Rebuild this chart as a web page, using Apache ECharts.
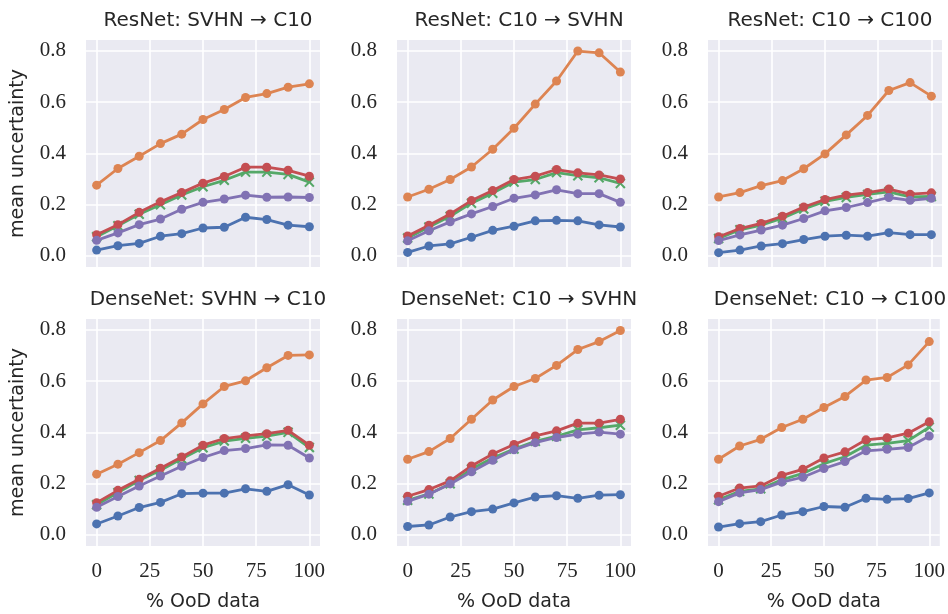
<!DOCTYPE html>
<html>
<head>
<meta charset="utf-8">
<script src="https://cdn.jsdelivr.net/npm/echarts@6/dist/echarts.min.js"></script>
<style>
html,body{margin:0;padding:0;background:#fff;}
#chart{width:948px;height:614px;}
</style>
</head>
<body>
<div id="chart"></div>
<script>
// ---------- data ----------
const xValues = [0, 10, 20, 30, 40, 50, 60, 70, 80, 90, 100];
const xTicks = [0, 25, 50, 75, 100];
const yTicks = [0, 0.2, 0.4, 0.6, 0.8];
const panelTitles = [
  'ResNet: SVHN \u2192 C10', 'ResNet: C10 \u2192 SVHN', 'ResNet: C10 \u2192 C100',
  'DenseNet: SVHN \u2192 C10', 'DenseNet: C10 \u2192 SVHN', 'DenseNet: C10 \u2192 C100'
];
const yLabel = 'mean uncertainty';
const xLabel = '% OoD data';

// panel 1: ResNet SVHN -> C10
const p1Blue   = [0.023, 0.040, 0.049, 0.077, 0.087, 0.109, 0.112, 0.151, 0.142, 0.120, 0.114];
const p1Orange = [0.276, 0.341, 0.389, 0.438, 0.475, 0.532, 0.571, 0.618, 0.633, 0.658, 0.671];
const p1Green  = [0.075, 0.118, 0.163, 0.200, 0.238, 0.270, 0.295, 0.327, 0.327, 0.318, 0.288];
const p1Red    = [0.083, 0.122, 0.170, 0.211, 0.247, 0.284, 0.310, 0.346, 0.346, 0.334, 0.311];
const p1Purple = [0.061, 0.090, 0.122, 0.144, 0.182, 0.209, 0.222, 0.237, 0.229, 0.230, 0.228];
// panel 2: ResNet C10 -> SVHN
const p2Blue   = [0.014, 0.039, 0.047, 0.073, 0.100, 0.116, 0.137, 0.139, 0.137, 0.121, 0.113];
const p2Orange = [0.230, 0.260, 0.298, 0.347, 0.416, 0.498, 0.592, 0.682, 0.799, 0.792, 0.717];
const p2Green  = [0.070, 0.113, 0.155, 0.206, 0.245, 0.288, 0.298, 0.325, 0.313, 0.305, 0.283];
const p2Red    = [0.078, 0.120, 0.164, 0.216, 0.255, 0.298, 0.311, 0.337, 0.324, 0.316, 0.300];
const p2Purple = [0.059, 0.098, 0.133, 0.164, 0.193, 0.225, 0.238, 0.258, 0.243, 0.243, 0.209];
// panel 3: ResNet C10 -> C100
const p3Blue   = [0.013, 0.023, 0.039, 0.048, 0.064, 0.077, 0.081, 0.077, 0.091, 0.083, 0.083];
const p3Orange = [0.230, 0.247, 0.274, 0.294, 0.340, 0.398, 0.472, 0.548, 0.645, 0.676, 0.623];
const p3Green  = [0.068, 0.102, 0.120, 0.147, 0.183, 0.213, 0.228, 0.240, 0.250, 0.230, 0.232];
const p3Red    = [0.075, 0.107, 0.127, 0.155, 0.191, 0.220, 0.237, 0.247, 0.261, 0.241, 0.246];
const p3Purple = [0.060, 0.082, 0.101, 0.120, 0.146, 0.176, 0.189, 0.208, 0.228, 0.217, 0.225];
// panel 4: DenseNet SVHN -> C10
const p4Blue   = [0.043, 0.074, 0.107, 0.127, 0.161, 0.163, 0.163, 0.180, 0.170, 0.196, 0.156];
const p4Orange = [0.237, 0.276, 0.321, 0.368, 0.437, 0.511, 0.579, 0.601, 0.652, 0.700, 0.702];
const p4Green  = [0.118, 0.165, 0.212, 0.252, 0.297, 0.340, 0.366, 0.377, 0.385, 0.400, 0.341];
const p4Red    = [0.126, 0.174, 0.217, 0.260, 0.304, 0.350, 0.376, 0.386, 0.395, 0.408, 0.350];
const p4Purple = [0.108, 0.150, 0.191, 0.230, 0.268, 0.302, 0.329, 0.337, 0.351, 0.350, 0.300];
// panel 5: DenseNet C10 -> SVHN
const p5Blue   = [0.033, 0.039, 0.070, 0.091, 0.101, 0.125, 0.148, 0.153, 0.143, 0.155, 0.157];
const p5Orange = [0.295, 0.325, 0.376, 0.451, 0.526, 0.579, 0.610, 0.661, 0.723, 0.754, 0.797];
const p5Green  = [0.135, 0.160, 0.200, 0.257, 0.300, 0.335, 0.365, 0.385, 0.410, 0.418, 0.428];
const p5Red    = [0.151, 0.177, 0.211, 0.269, 0.316, 0.353, 0.386, 0.406, 0.436, 0.436, 0.451];
const p5Purple = [0.131, 0.159, 0.199, 0.246, 0.291, 0.332, 0.360, 0.380, 0.393, 0.401, 0.393];
// panel 6: DenseNet C10 -> C100
const p6Blue   = [0.031, 0.044, 0.052, 0.078, 0.091, 0.111, 0.108, 0.143, 0.139, 0.142, 0.164];
const p6Orange = [0.295, 0.347, 0.373, 0.419, 0.451, 0.497, 0.540, 0.604, 0.614, 0.663, 0.754];
const p6Green  = [0.137, 0.170, 0.180, 0.215, 0.240, 0.278, 0.305, 0.350, 0.357, 0.368, 0.420];
const p6Red    = [0.151, 0.183, 0.191, 0.232, 0.256, 0.300, 0.324, 0.371, 0.379, 0.397, 0.441];
const p6Purple = [0.130, 0.164, 0.177, 0.206, 0.225, 0.259, 0.286, 0.328, 0.334, 0.341, 0.386];

const panels = [
  [p1Blue, p1Orange, p1Green, p1Red, p1Purple],
  [p2Blue, p2Orange, p2Green, p2Red, p2Purple],
  [p3Blue, p3Orange, p3Green, p3Red, p3Purple],
  [p4Blue, p4Orange, p4Green, p4Red, p4Purple],
  [p5Blue, p5Orange, p5Green, p5Red, p5Purple],
  [p6Blue, p6Orange, p6Green, p6Red, p6Purple]
];

// ---------- styling ----------
const colors = ['#4C72B0', '#DD8452', '#55A868', '#C44E52', '#8172B3'];
const xSymbol = 'path://M0,1.4 L1.4,0 L5,3.6 L8.6,0 L10,1.4 L6.4,5 L10,8.6 L8.6,10 L5,6.4 L1.4,10 L0,8.6 L3.6,5 Z';
const symbols = ['circle', 'circle', xSymbol, 'circle', 'circle'];
const symbolSizes = [9, 9, 10.5, 9, 9];
const textColor = '#262626';
const tickFont = 'Liberation Serif';
const sansFont = 'DejaVu Sans';

const gridLefts = [86, 397, 708];
const gridTops = [40, 319];
const gridW = 234, gridH = 227;

const grids = [], xAxes = [], yAxes = [], titles = [], series = [];
for (let i = 0; i < 6; i++) {
  const row = Math.floor(i / 3), col = i % 3;
  grids.push({
    left: gridLefts[col], top: gridTops[row], width: gridW, height: gridH,
    show: true, backgroundColor: '#EAEAF2', borderWidth: 0
  });
  titles.push({
    text: panelTitles[i],
    left: gridLefts[col] + gridW / 2,
    top: gridTops[row] - 34,
    textAlign: 'center',
    textStyle: { fontFamily: sansFont, fontSize: 20, fontWeight: 'normal', color: textColor }
  });
  xAxes.push({
    gridIndex: i, type: 'value', min: -5, max: 105,
    axisLine: { show: false }, axisTick: { show: false, customValues: xTicks },
    axisLabel: {
      show: row === 1, customValues: xTicks, margin: 15,
      fontFamily: tickFont, fontSize: 21, color: textColor
    },
    splitLine: { show: true, lineStyle: { color: '#ffffff', width: 1.6 } },
    name: row === 1 ? xLabel : '',
    nameLocation: 'middle', nameGap: 47,
    nameTextStyle: { fontFamily: sansFont, fontSize: 19, color: textColor }
  });
  yAxes.push({
    gridIndex: i, type: 'value', min: -0.043, max: 0.842,
    axisLine: { show: false }, axisTick: { show: false, customValues: yTicks },
    axisLabel: {
      customValues: yTicks, margin: 20,
      fontFamily: tickFont, fontSize: 21, color: textColor,
      formatter: v => v.toFixed(1)
    },
    splitLine: { show: true, lineStyle: { color: '#ffffff', width: 1.6 } },
    name: col === 0 ? yLabel : '',
    nameLocation: 'middle', nameGap: 58, nameRotate: 90,
    nameTextStyle: { fontFamily: sansFont, fontSize: 19, color: textColor }
  });
  panels[i].forEach((vals, k) => {
    series.push({
      type: 'line', xAxisIndex: i, yAxisIndex: i,
      data: xValues.map((x, j) => [x, vals[j]]),
      symbol: symbols[k], symbolSize: symbolSizes[k], showSymbol: true,
      lineStyle: { color: colors[k], width: 2.8 },
      itemStyle: { color: colors[k], borderWidth: 0 },
      z: 2 + k, animation: false
    });
  });
}

const chart = echarts.init(document.getElementById('chart'), null, { renderer: 'canvas' });
chart.setOption({
  animation: false,
  backgroundColor: '#ffffff',
  title: titles,
  grid: grids,
  xAxis: xAxes,
  yAxis: yAxes,
  series: series
});
</script>
</body>
</html>
